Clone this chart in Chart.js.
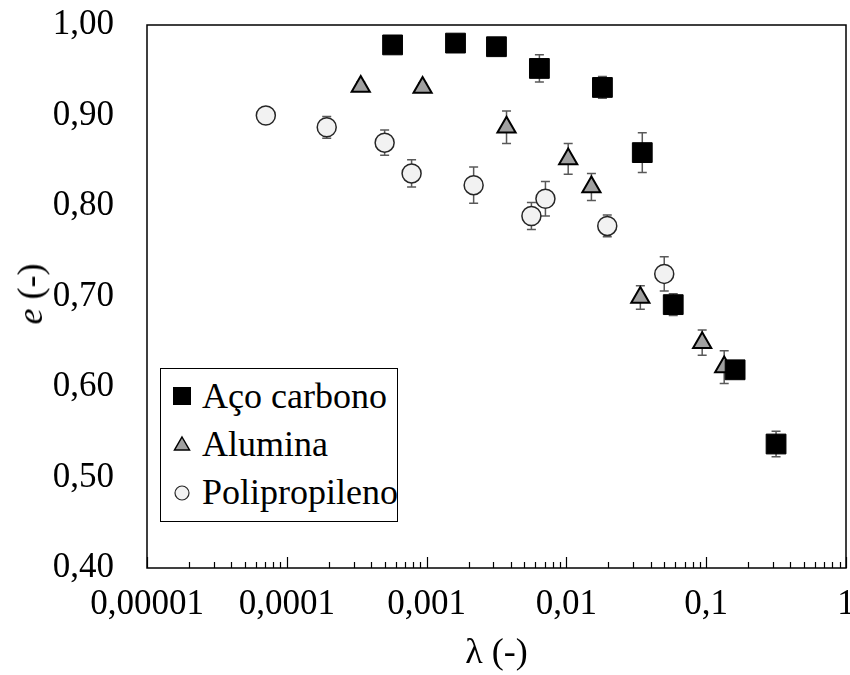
<!DOCTYPE html>
<html>
<head>
<meta charset="utf-8">
<script src="https://cdn.jsdelivr.net/npm/chart.js@4.4.1/dist/chart.umd.min.js"></script>
<style>
  html, body { margin: 0; padding: 0; background: #fff; }
  #wrap { position: relative; width: 850px; height: 675px; font-family: 'Liberation Serif'; }
  #c { position: absolute; left: 0; top: 0; }
  #ytitle { position: absolute; left: 30px; top: 294px; transform: translate(-50%, -50%) rotate(-90deg);
            font-family: 'Liberation Serif'; font-size: 36px; white-space: nowrap; color: #000; line-height: 1; }
  #legend { position: absolute; left: 160px; top: 368px; width: 238px; height: 154px;
            border: 1.5px solid #000; background: #fff; box-sizing: border-box; padding-top: 3px; }
  .row { height: 48px; line-height: 48px; font-family: 'Liberation Serif'; font-size: 36px; color: #000; white-space: nowrap; }
  .row svg { display: inline-block; width: 30px; height: 48px; vertical-align: top; margin-left: 6px; margin-right: 5px; }
</style>
</head>
<body>
<div id="wrap">
  <canvas id="c" width="850" height="675"></canvas>
  <div id="ytitle"><i>e</i> (-)</div>
  <div id="legend"></div>
</div>
<script>
// ---- Data ----
const seriesNames = ['Aço carbono', 'Alumina', 'Polipropileno'];

const acoX   = [0.000571, 0.00161, 0.00316, 0.00641, 0.0181, 0.0349, 0.0581, 0.161, 0.316];
const acoY   = [0.978, 0.980, 0.976, 0.952, 0.931, 0.859, 0.691, 0.619, 0.537];
const acoErr = [0.003, 0.003, 0.003, 0.015, 0.012, 0.022, 0.012, 0.0, 0.014];

const aluX   = [0.000338, 0.000936, 0.00373, 0.0103, 0.0151, 0.0338, 0.0936, 0.1345];
const aluY   = [0.932, 0.931, 0.887, 0.852, 0.821, 0.699, 0.649, 0.622];
const aluErr = [0.005, 0.005, 0.018, 0.017, 0.015, 0.013, 0.014, 0.018];

const ppX    = [0.0000708, 0.000193, 0.000501, 0.000781, 0.00217, 0.00562, 0.00708, 0.0196, 0.0501];
const ppY    = [0.900, 0.887, 0.870, 0.836, 0.823, 0.789, 0.808, 0.778, 0.725];
const ppErr  = [0.0, 0.012, 0.014, 0.015, 0.020, 0.015, 0.019, 0.012, 0.019];

const xTickValues = [0.00001, 0.0001, 0.001, 0.01, 0.1, 1];
const xTickLabels = ['0,00001', '0,0001', '0,001', '0,01', '0,1', '1'];
const yTickValues = [0.40, 0.50, 0.60, 0.70, 0.80, 0.90, 1.00];
const yTickLabels = ['0,40', '0,50', '0,60', '0,70', '0,80', '0,90', '1,00'];

const xTitle = 'λ (-)';

// ---- Build datasets ----
function pts(xs, ys, errs) { return xs.map((x, i) => ({ x: x, y: ys[i], err: errs[i] })); }

const datasets = [
  { label: seriesNames[0], data: pts(acoX, acoY, acoErr), pointStyle: 'rect', pointRadius: 14, pointHoverRadius: 14,
    backgroundColor: '#000000', borderColor: '#000000', borderWidth: 1, showLine: false },
  { label: seriesNames[1], data: pts(aluX, aluY, aluErr), pointStyle: 'triangle', pointRadius: 10.5, pointHoverRadius: 10.5,
    backgroundColor: '#a0a0a0', borderColor: '#000000', borderWidth: 2, showLine: false },
  { label: seriesNames[2], data: pts(ppX, ppY, ppErr), pointStyle: 'circle', pointRadius: 9.5, pointHoverRadius: 9.5,
    backgroundColor: '#f2f2f2', borderColor: '#262626', borderWidth: 1.5, showLine: false }
];

// error bars behind the markers
const errorBars = {
  id: 'errorBars',
  beforeDatasetsDraw(chart) {
    const ctx = chart.ctx, xs = chart.scales.x, ys = chart.scales.y;
    ctx.save();
    ctx.strokeStyle = '#595959';
    ctx.lineWidth = 1.5;
    chart.data.datasets.forEach(ds => {
      ds.data.forEach(p => {
        if (!p.err) return;
        const px = xs.getPixelForValue(p.x);
        const y1 = ys.getPixelForValue(p.y + p.err);
        const y2 = ys.getPixelForValue(p.y - p.err);
        ctx.beginPath();
        ctx.moveTo(px, y1); ctx.lineTo(px, y2);
        ctx.moveTo(px - 4.5, y1); ctx.lineTo(px + 4.5, y1);
        ctx.moveTo(px - 4.5, y2); ctx.lineTo(px + 4.5, y2);
        ctx.stroke();
      });
    });
    ctx.restore();
  }
};

// frame and inside minor ticks of the log axis
const frameTicks = {
  id: 'frameTicks',
  afterDatasetsDraw(chart) {
    const ctx = chart.ctx, a = chart.chartArea, xs = chart.scales.x;
    ctx.save();
    ctx.strokeStyle = '#000';
    ctx.lineWidth = 1.2;
    ctx.beginPath();
    xs.ticks.forEach(t => {
      const px = Math.round(xs.getPixelForValue(t.value)) + 0.5;
      const lg = Math.log10(t.value);
      const major = Math.abs(lg - Math.round(lg)) < 1e-6;
      const len = major ? 11 : 6;
      ctx.moveTo(px, a.bottom);
      ctx.lineTo(px, a.bottom - len);
    });
    ctx.stroke();
    ctx.lineWidth = 1.5;
    ctx.strokeRect(a.left, a.top, a.right - a.left, a.bottom - a.top);
    ctx.restore();
  }
};

const font = { family: 'Liberation Serif', size: 35 };

new Chart(document.getElementById('c'), {
  type: 'scatter',
  data: { datasets: datasets },
  options: {
    responsive: false,
    animation: false,
    events: [],
    layout: { autoPadding: false, padding: { top: 25, right: 4, left: 0, bottom: 0 } },
    plugins: { legend: { display: false }, tooltip: { enabled: false } },
    scales: {
      x: {
        type: 'logarithmic',
        min: xTickValues[0],
        max: xTickValues[xTickValues.length - 1],
        grid: { display: false, drawTicks: false },
        border: { display: false },
        afterBuildTicks(s) {
          const t = [];
          for (let e = -5; e < 0; e++) for (let m = 1; m <= 9; m++) t.push({ value: m * Math.pow(10, e) });
          t.push({ value: 1 });
          s.ticks = t;
        },
        afterFit(s) { s.height = 107; s.paddingLeft = 0; s.paddingRight = 0; },
        ticks: {
          autoSkip: false, maxRotation: 0, minRotation: 0, padding: 16, color: '#000', font: font,
          callback(v) {
            const i = xTickValues.findIndex(tv => Math.abs(Math.log10(tv) - Math.log10(v)) < 1e-6);
            return i >= 0 ? xTickLabels[i] : '';
          }
        },
        title: { display: true, text: xTitle, color: '#000', font: { family: 'Liberation Serif', size: 36 }, padding: { top: 0, bottom: 0 } }
      },
      y: {
        min: yTickValues[0],
        max: yTickValues[yTickValues.length - 1],
        grid: { display: false, drawTicks: false },
        border: { display: false },
        afterBuildTicks(s) { s.ticks = yTickValues.map(v => ({ value: v })); },
        afterFit(s) { s.width = 147; s.paddingTop = 0; s.paddingBottom = 0; },
        ticks: {
          padding: 33, color: '#000', font: font,
          callback(v) {
            const i = yTickValues.findIndex(tv => Math.abs(tv - v) < 1e-6);
            return i >= 0 ? yTickLabels[i] : '';
          }
        }
      }
    }
  },
  plugins: [errorBars, frameTicks]
});

// legend (HTML, inside the plot area)
const markerSvgs = [
  '<svg viewBox="0 0 30 48"><rect x="6" y="15" width="18" height="18" fill="#000"/></svg>',
  '<svg viewBox="0 0 30 48"><polygon points="15,17 22.5,30 7.5,30" fill="#a0a0a0" stroke="#000" stroke-width="1.5"/></svg>',
  '<svg viewBox="0 0 30 48"><circle cx="15" cy="25" r="7" fill="#f2f2f2" stroke="#262626" stroke-width="1.2"/></svg>'
];
const leg = document.getElementById('legend');
seriesNames.forEach((n, i) => {
  const r = document.createElement('div');
  r.className = 'row';
  r.innerHTML = markerSvgs[i] + '<span>' + n + '</span>';
  leg.appendChild(r);
});
</script>
</body>
</html>
